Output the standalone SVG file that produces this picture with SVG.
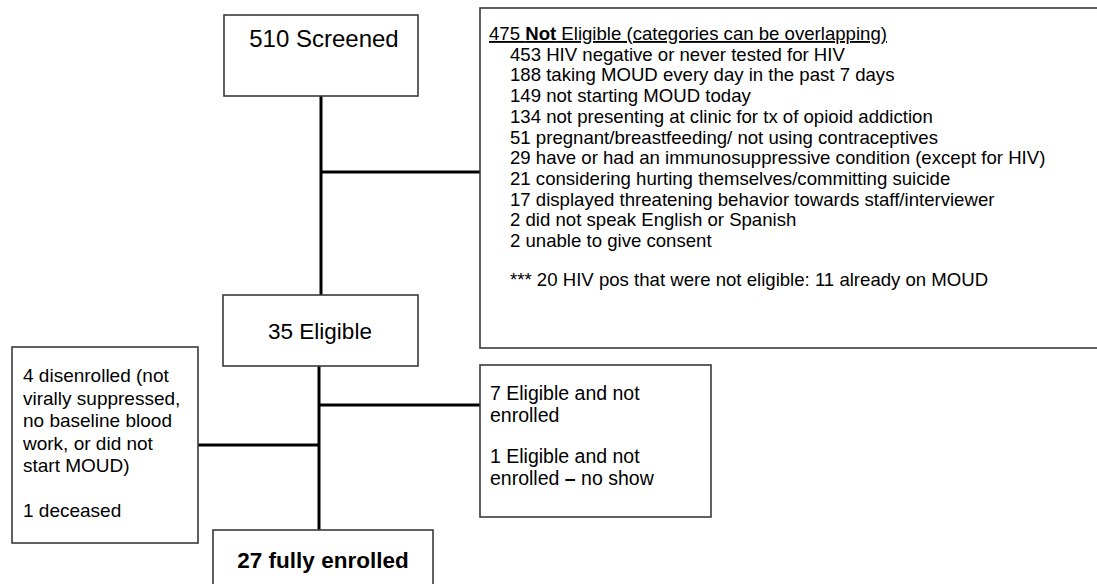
<svg xmlns="http://www.w3.org/2000/svg" width="1097" height="584" viewBox="0 0 1097 584">
  <style>
    .box { fill: #ffffff; stroke: #3a3a3a; stroke-width: 1.6; }
    .link { stroke: #000000; stroke-width: 3; fill: none; }
    .t { font-family: "Liberation Sans", Arial, sans-serif; fill: #000000; }
    .big { font-size: 24px; }
    .mid { font-size: 22.5px; }
    .sm { font-size: 18.6px; }
    .side { font-size: 19px; }
    .side2 { font-size: 19.5px; }
    .b { font-weight: bold; }
  </style>
  <rect width="1097" height="584" fill="#ffffff"/>

  <!-- connectors -->
  <g id="connectors">
    <line class="link" x1="321" y1="96" x2="321" y2="295"/>
    <line class="link" x1="321" y1="172" x2="480" y2="172"/>
    <line class="link" x1="319" y1="366" x2="319" y2="530"/>
    <line class="link" x1="319" y1="405" x2="480" y2="405"/>
    <line class="link" x1="198" y1="445" x2="319" y2="445"/>
  </g>

  <!-- screened -->
  <g id="screened">
    <rect class="box" x="224" y="15" width="194" height="81"/>
    <text class="t big" x="324" y="47" text-anchor="middle">510 Screened</text>
  </g>

  <!-- not eligible -->
  <g id="not-eligible">
    <rect class="box" x="480" y="8" width="640" height="340" stroke-width="2"/>
    <text class="t sm" x="489" y="40" text-decoration="underline">475 <tspan class="b">Not</tspan> Eligible (categories can be overlapping)</text>
    <text class="t sm" x="510">
      <tspan x="510" y="60.7">453 HIV negative or never tested for HIV</tspan>
      <tspan x="510" y="81.4">188 taking MOUD every day in the past 7 days</tspan>
      <tspan x="510" y="102.1">149 not starting MOUD today</tspan>
      <tspan x="510" y="122.8">134 not presenting at clinic for tx of opioid addiction</tspan>
      <tspan x="510" y="143.5">51 pregnant/breastfeeding/ not using contraceptives</tspan>
      <tspan x="510" y="164.2">29 have or had an immunosuppressive condition (except for HIV)</tspan>
      <tspan x="510" y="184.9">21 considering hurting themselves/committing suicide</tspan>
      <tspan x="510" y="205.6">17 displayed threatening behavior towards staff/interviewer</tspan>
      <tspan x="510" y="226.3">2 did not speak English or Spanish</tspan>
      <tspan x="510" y="247">2 unable to give consent</tspan>
      <tspan x="510" y="286">*** 20 HIV pos that were not eligible: 11 already on MOUD</tspan>
    </text>
  </g>

  <!-- eligible -->
  <g id="eligible">
    <rect class="box" x="223" y="295" width="195" height="71"/>
    <text class="t mid" x="320" y="339" text-anchor="middle">35 Eligible</text>
  </g>

  <!-- disenrolled -->
  <g id="disenrolled">
    <rect class="box" x="12" y="347" width="186" height="196"/>
    <text class="t side">
      <tspan x="23" y="382">4 disenrolled (not</tspan>
      <tspan x="23" y="404.5">virally suppressed,</tspan>
      <tspan x="23" y="427">no baseline blood</tspan>
      <tspan x="23" y="449.5">work, or did not</tspan>
      <tspan x="23" y="472">start MOUD)</tspan>
      <tspan x="23" y="517">1 deceased</tspan>
    </text>
  </g>

  <!-- not enrolled -->
  <g id="not-enrolled">
    <rect class="box" x="480" y="365" width="231" height="152"/>
    <text class="t side2">
      <tspan x="490" y="400">7 Eligible and not</tspan>
      <tspan x="490" y="421.5">enrolled</tspan>
      <tspan x="490" y="463">1 Eligible and not</tspan>
      <tspan x="490" y="484.5">enrolled <tspan class="b">–</tspan> no show</tspan>
    </text>
  </g>

  <!-- enrolled -->
  <g id="enrolled">
    <rect class="box" x="213" y="530" width="220" height="70"/>
    <text class="t mid b" x="323" y="568" text-anchor="middle">27 fully enrolled</text>
  </g>
</svg>
